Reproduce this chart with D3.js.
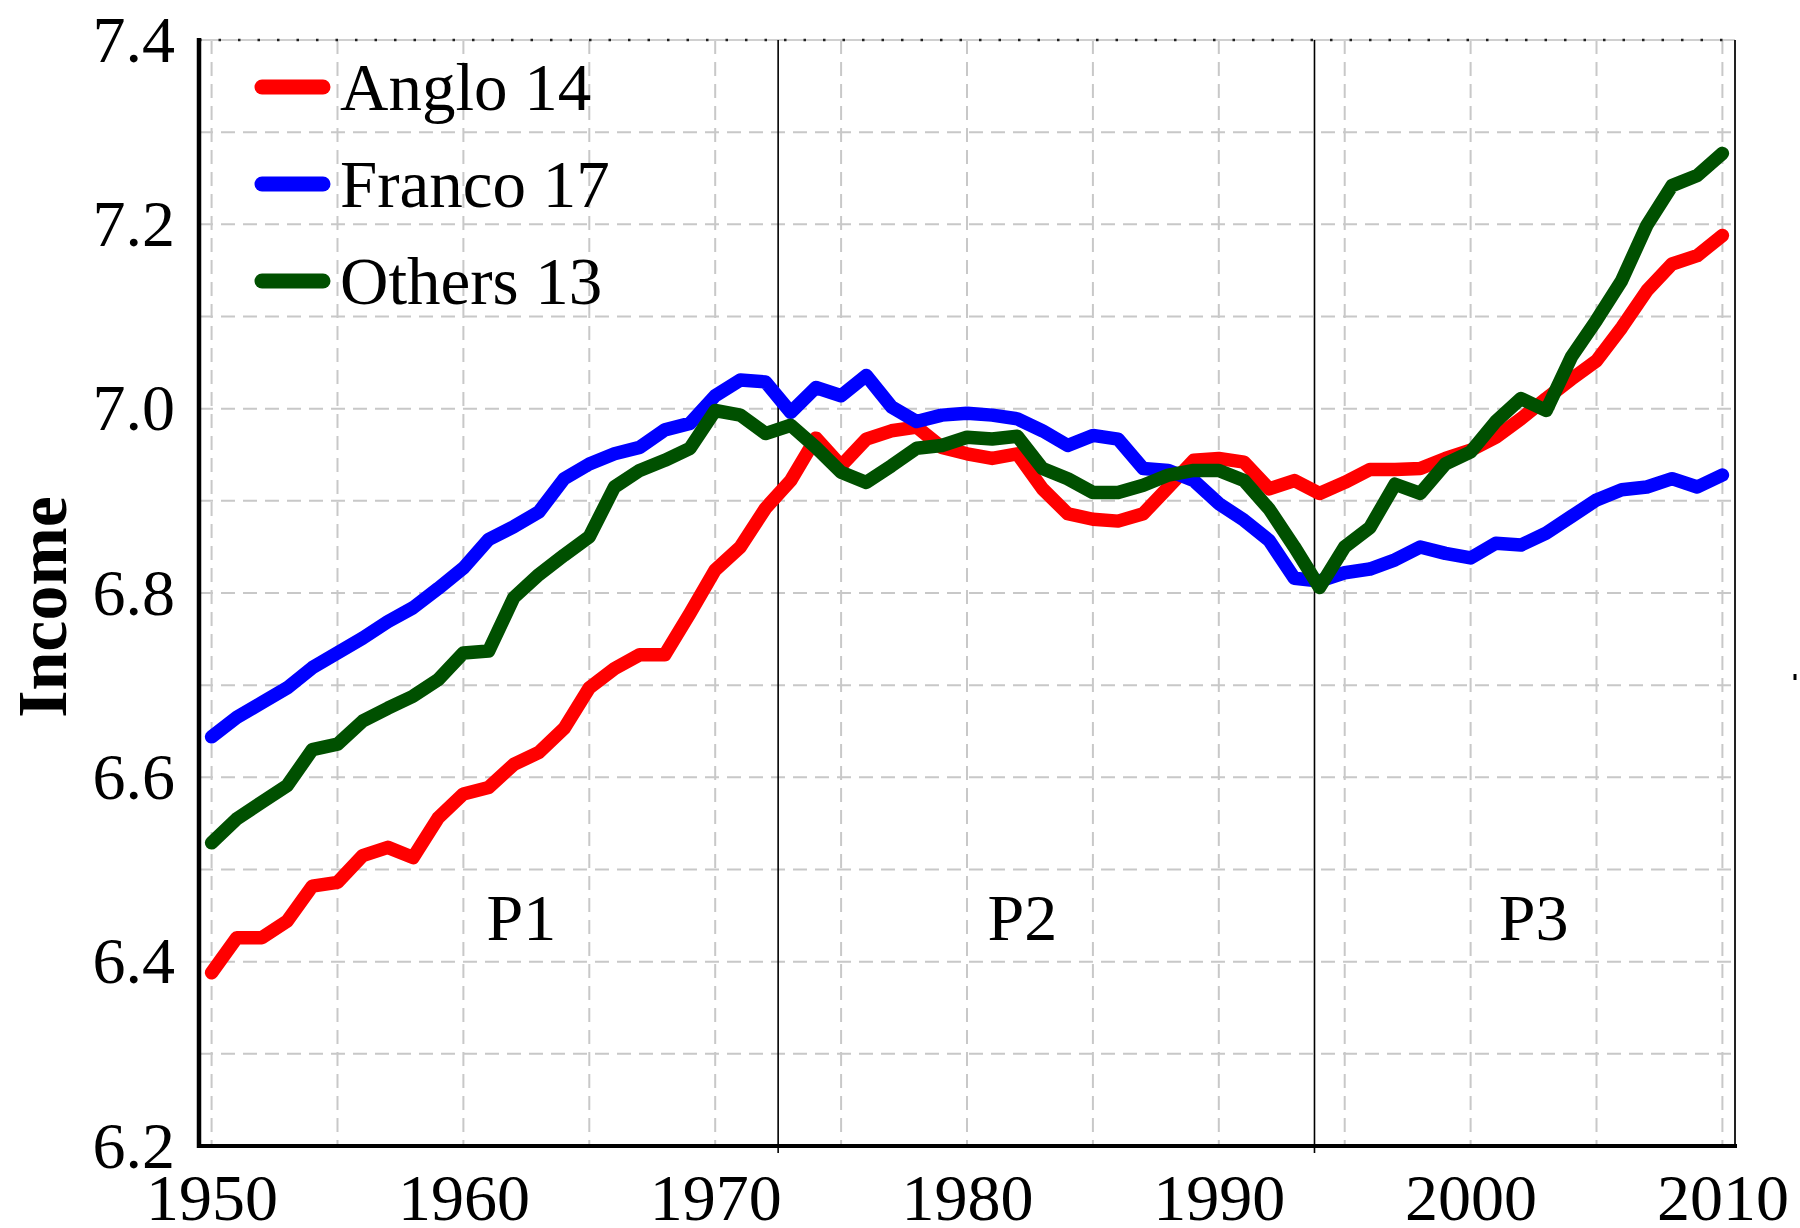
<!DOCTYPE html>
<html>
<head>
<meta charset="utf-8">
<script src="https://cdn.jsdelivr.net/npm/d3@7/dist/d3.min.js"></script>
<style>
  body { margin: 0; background: #fff; }
  text { font-family: "Liberation Serif", "Times New Roman", serif; fill: #000; }
</style>
</head>
<body>
<svg id="chart" width="1800" height="1228"></svg>
<script>
// data, one value per year 1950..2010
var years = d3.range(1950, 2011);
var anglo = [6.388, 6.426, 6.426, 6.444, 6.482, 6.486, 6.515, 6.524, 6.513, 6.556,
             6.582, 6.589, 6.614, 6.627, 6.653, 6.697, 6.718, 6.733, 6.733, 6.778,
             6.825, 6.850, 6.892, 6.922, 6.968, 6.938, 6.967, 6.976, 6.980, 6.958,
             6.951, 6.946, 6.951, 6.913, 6.886, 6.880, 6.878, 6.886, 6.915, 6.944,
             6.946, 6.942, 6.913, 6.922, 6.908, 6.920, 6.934, 6.934, 6.935, 6.946,
             6.955, 6.969, 6.989, 7.011, 7.032, 7.052, 7.088, 7.128, 7.157, 7.166,
             7.188];
var franco = [6.644, 6.665, 6.681, 6.697, 6.719, 6.735, 6.751, 6.769, 6.784, 6.805,
              6.827, 6.858, 6.872, 6.888, 6.924, 6.940, 6.951, 6.958, 6.977, 6.984,
              7.014, 7.031, 7.029, 6.996, 7.023, 7.014, 7.036, 7.002, 6.986, 6.993,
              6.995, 6.993, 6.989, 6.976, 6.960, 6.971, 6.967, 6.935, 6.933, 6.922,
              6.897, 6.879, 6.857, 6.816, 6.813, 6.822, 6.826, 6.836, 6.850, 6.843,
              6.838, 6.854, 6.852, 6.865, 6.883, 6.901, 6.912, 6.915, 6.924, 6.915,
              6.928];
var others = [6.529, 6.555, 6.573, 6.591, 6.630, 6.636, 6.661, 6.675, 6.688, 6.706,
              6.735, 6.737, 6.795, 6.820, 6.841, 6.861, 6.915, 6.933, 6.944, 6.957,
              6.998, 6.993, 6.973, 6.982, 6.958, 6.931, 6.920, 6.938, 6.957, 6.960,
              6.969, 6.967, 6.970, 6.935, 6.924, 6.909, 6.909, 6.917, 6.928, 6.933,
              6.933, 6.922, 6.891, 6.850, 6.806, 6.850, 6.871, 6.918, 6.908, 6.940,
              6.953, 6.986, 7.011, 6.998, 7.056, 7.096, 7.139, 7.199, 7.242, 7.253,
              7.277];
var seriesNames = ["Anglo 14", "Franco 17", "Others 13"];
var seriesColors = ["#ff0000", "#0000ff", "#005000"];
var xTicks = [1950, 1960, 1970, 1980, 1990, 2000, 2010];
var yTicks = [6.2, 6.4, 6.6, 6.8, 7.0, 7.2, 7.4];
var periodBreaks = [1972.5, 1993.8];
var periodNames = ["P1", "P2", "P3"];
var periodCenters = [1962.3, 1982.2, 2002.5];

var svg = d3.select("#chart");
var pLeft = 199, pRight = 1735, pTop = 40, pBottom = 1146;

var x = d3.scaleLinear().domain([1949.5, 2010.5]).range([pLeft, pRight]);
var y = d3.scaleLinear().domain([6.2, 7.4]).range([pBottom, pTop]);

// dashed grid
var grid = svg.append("g").attr("stroke", "#c8c8c8").attr("stroke-width", 2)
    .attr("stroke-dasharray", "14,8").attr("fill", "none");
grid.selectAll(".gx").data(d3.range(1950, 2011, 5)).enter().append("line")
    .attr("x1", d => x(d)).attr("x2", d => x(d))
    .attr("y1", pTop).attr("y2", pBottom);
grid.selectAll(".gy").data(d3.range(1, 12).map(i => 6.2 + i * 0.1)).enter().append("line")
    .attr("x1", pLeft).attr("x2", pRight)
    .attr("y1", d => y(d)).attr("y2", d => y(d));

// frame: dotted top, thin right
svg.append("line").attr("x1", pLeft).attr("x2", pRight).attr("y1", pTop).attr("y2", pTop)
    .attr("stroke", "#d0d0d0").attr("stroke-width", 2);
svg.append("line").attr("x1", pLeft).attr("x2", pRight).attr("y1", pTop).attr("y2", pTop)
    .attr("stroke", "#222").attr("stroke-width", 2.5).attr("stroke-dasharray", "2.5,17");
svg.append("line").attr("x1", pRight).attr("x2", pRight).attr("y1", pTop).attr("y2", pBottom)
    .attr("stroke", "#222").attr("stroke-width", 2);

// period dividers
svg.selectAll(".period").data(periodBreaks).enter().append("line")
    .attr("x1", d => x(d)).attr("x2", d => x(d))
    .attr("y1", pTop).attr("y2", pBottom + 7)
    .attr("stroke", "#000").attr("stroke-width", 1.6);

svg.selectAll(".plabel").data(periodNames).enter().append("text")
    .attr("x", (d, i) => x(periodCenters[i]))
    .attr("y", y(6.424))
    .attr("text-anchor", "middle")
    .attr("font-size", 66)
    .text(d => d);

// series
var allSeries = [anglo, franco, others];
var line = d3.line().x((d, i) => x(years[i])).y(d => y(d));
svg.selectAll(".series").data(allSeries).enter().append("path")
    .attr("d", line)
    .attr("fill", "none")
    .attr("stroke", (d, i) => seriesColors[i])
    .attr("stroke-width", 13.5)
    .attr("stroke-linejoin", "round")
    .attr("stroke-linecap", "round");

// axes
var yAxis = svg.append("g").attr("transform", "translate(" + pLeft + ",0)")
    .call(d3.axisLeft(y).tickValues(yTicks).tickSize(0).tickPadding(24)
        .tickFormat(d3.format(".1f")));
yAxis.select(".domain").remove();
yAxis.selectAll("text").attr("font-size", 66).attr("font-family", "Liberation Serif");

var xAxis = svg.append("g").attr("transform", "translate(0," + pBottom + ")")
    .call(d3.axisBottom(x).tickValues(xTicks).tickSize(0).tickPadding(27)
        .tickFormat(d3.format("d")));
xAxis.select(".domain").remove();
xAxis.selectAll("text").attr("font-size", 66).attr("font-family", "Liberation Serif");

svg.append("line").attr("x1", pLeft).attr("x2", pLeft).attr("y1", pTop - 2).attr("y2", pBottom + 2)
    .attr("stroke", "#000").attr("stroke-width", 4.5);
svg.append("line").attr("x1", pLeft).attr("x2", pRight + 2).attr("y1", pBottom).attr("y2", pBottom)
    .attr("stroke", "#000").attr("stroke-width", 4);

// y title
svg.append("text")
    .attr("transform", "translate(66,607) rotate(-90)")
    .attr("text-anchor", "middle")
    .attr("font-size", 70)
    .attr("font-weight", "bold")
    .text("Income");

// stray mark at the right edge of the original
svg.append("line").attr("x1", 1795).attr("x2", 1795).attr("y1", 674).attr("y2", 680)
    .attr("stroke", "#000").attr("stroke-width", 3);

// legend
var legend = svg.append("g");
var rows = legend.selectAll(".row").data(seriesNames).enter().append("g")
    .attr("transform", (d, i) => "translate(0," + (87 + i * 97) + ")");
rows.append("line").attr("x1", 262).attr("x2", 323)
    .attr("stroke", (d, i) => seriesColors[i])
    .attr("stroke-width", 15).attr("stroke-linecap", "round");
rows.append("text").attr("x", 340).attr("y", 23)
    .attr("font-size", 67)
    .text(d => d);
</script>
</body>
</html>
